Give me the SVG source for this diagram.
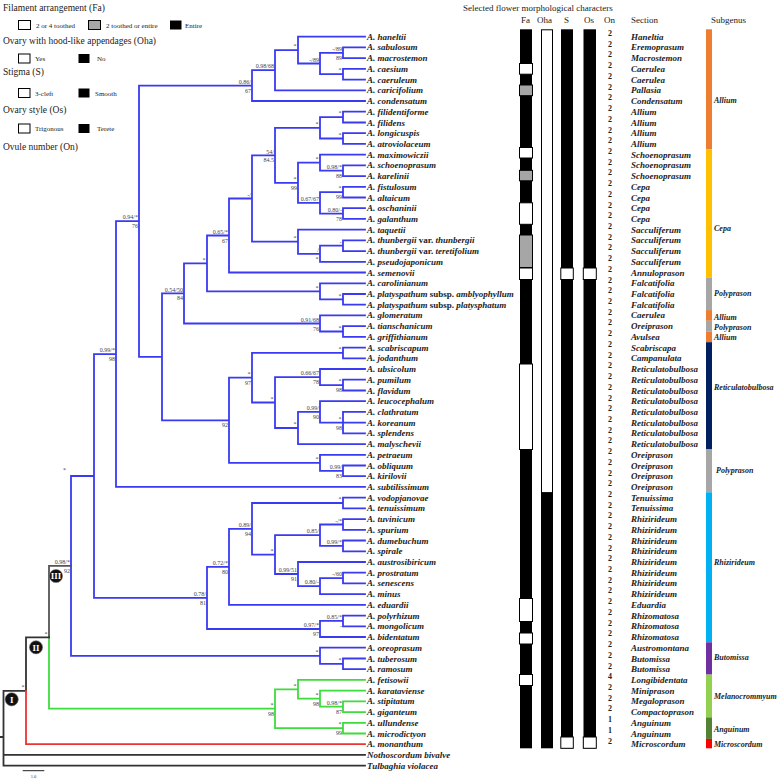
<svg xmlns="http://www.w3.org/2000/svg" width="780" height="780" viewBox="0 0 780 780">
<style>
text{font-family:"Liberation Serif","Times New Roman",serif;}
.lg{font-size:9.5px;fill:#222}
.ls{font-size:7px;fill:#222}
.hd{font-size:9px;fill:#222}
.tx{font-size:9px;font-weight:bold;font-style:italic;fill:#222}
.tx .r{font-style:normal}
.sc{font-size:9px;font-weight:bold;font-style:italic;fill:#222}
.sg{font-size:8px;font-weight:bold;font-style:italic;fill:#222}
.on{font-size:8px;font-weight:bold;fill:#222;text-anchor:middle}
.nl{font-size:6px;fill:#444;text-anchor:end}
.br{fill:none;stroke-width:1.8;stroke-linecap:square}
.blue{stroke:#3a3af2}
.green{stroke:#3ddc3d}
.red{stroke:#ee3333}
.blk{stroke:#333}
.gry{stroke:#555}
.wb{fill:#fff;stroke:#000;stroke-width:1}
.gb{fill:#a6a6a6;stroke:#000;stroke-width:1}
.bb{fill:#000}
.cir{fill:#111;stroke:#777;stroke-width:0.6}
.cn{font-family:"Liberation Serif","Times New Roman",serif;font-size:9px;font-weight:bold;fill:#fff;text-anchor:middle}
</style>

<g id="legend">
<text class="lg" x="3" y="11">Filament arrangement (Fa)</text>
<rect class="wb" x="18.5" y="20.5" width="12" height="9"/><text class="ls" x="36" y="27.5">2 or 4 toothed</text>
<rect class="gb" x="88.5" y="20.5" width="12" height="9"/><text class="ls" x="106" y="27.5">2 toothed or entire</text>
<rect class="bb" x="170" y="20.5" width="11.5" height="9"/><text class="ls" x="185" y="27.5">Entire</text>
<text class="lg" x="3" y="44">Ovary with hood-like appendages (Oha)</text>
<rect class="wb" x="18.5" y="54" width="11.5" height="9"/><text class="ls" x="35" y="61">Yes</text>
<rect class="bb" x="78.5" y="54" width="11" height="9"/><text class="ls" x="97" y="61">No</text>
<text class="lg" x="3" y="75">Stigma (S)</text>
<rect class="wb" x="18.5" y="88.5" width="11.5" height="9"/><text class="ls" x="35" y="95.5">3-cleft</text>
<rect class="bb" x="78.5" y="88.5" width="11" height="9"/><text class="ls" x="95" y="95.5">Smooth</text>
<text class="lg" x="3" y="113">Ovary style (Os)</text>
<rect class="wb" x="18.5" y="124" width="11.5" height="9"/><text class="ls" x="35" y="131">Trigonous</text>
<rect class="bb" x="78.5" y="124" width="11" height="9"/><text class="ls" x="97" y="131">Terete</text>
<text class="lg" x="3" y="150">Ovule number (On)</text>
</g>

<g id="connectors">
<path class="br blue" d="
M343,47.4V58.1M343,47.4H365M343,58.1H365
M343,68.9V79.6M343,68.9H365M343,79.6H365
M320,52.8V74.2M320,52.8H343M320,74.2H343
M298,36.7V63.5M298,36.7H365M298,63.5H320
M275,50.1V90.3M275,50.1H298M275,90.3H365
M252,70.2V101M252,70.2H275M252,101H365
M343,111.7V122.5M343,111.7H365M343,122.5H365
M343,133.2V143.9M343,133.2H365M343,143.9H365
M320,117.1V138.5M320,117.1H343M320,138.5H343
M343,165.3V176.1M343,165.3H365M343,176.1H365
M320,154.6V170.7M320,154.6H365M320,170.7H343
M343,186.8V197.5M343,186.8H365M343,197.5H365
M343,208.2V218.9M343,208.2H365M343,218.9H365
M320,192.1V213.6M320,192.1H343M320,213.6H343
M298,162.7V202.9M298,162.7H320M298,202.9H320
M275,127.8V182.8M275,127.8H320M275,182.8H298
M343,240.4V251.1M343,240.4H365M343,251.1H365
M320,245.7V261.8M320,245.7H343M320,261.8H365
M298,229.7V253.8M298,229.7H365M298,253.8H320
M252,155.3V241.7M252,155.3H275M252,241.7H298
M229,198.5V272.5M229,198.5H252M229,272.5H365
M343,294V304.7M343,294H365M343,304.7H365
M320,283.3V299.3M320,283.3H365M320,299.3H343
M207,235.5V291.3M207,235.5H229M207,291.3H320
M343,326.1V336.9M343,326.1H365M343,336.9H365
M320,315.4V331.5M320,315.4H365M320,331.5H343
M184,263.4V323.5M184,263.4H207M184,323.5H320
M343,347.6V358.3M343,347.6H365M343,358.3H365
M343,379.7V390.5M343,379.7H365M343,390.5H365
M320,369V385.1M320,369H365M320,385.1H343
M343,411.9V433.3M343,411.9H365M343,422.6H365M343,433.3H365
M320,401.2V422.6M320,401.2H365M320,422.6H343
M298,411.9V444.1M298,411.9H320M298,444.1H365
M275,377.1V428M275,377.1H320M275,428H298
M252,352.9V402.5M252,352.9H343M252,402.5H275
M343,465.5V476.2M343,465.5H365M343,476.2H365
M320,454.8V470.9M320,454.8H365M320,470.9H343
M229,377.7V462.8M229,377.7H252M229,462.8H320
M162,293.4V420.3M162,293.4H184M162,420.3H229
M139,85.6V356.8M139,85.6H252M139,356.8H162
M116,221.2V486.9M116,221.2H139M116,486.9H365
M343,497.7V508.4M343,497.7H365M343,508.4H365
M343,519.1V529.8M343,519.1H365M343,529.8H365
M343,540.5V551.3M343,540.5H365M343,551.3H365
M320,524.5V545.9M320,524.5H343M320,545.9H343
M343,572.7V583.4M343,572.7H365M343,583.4H365
M320,578.1V594.1M320,578.1H343M320,594.1H365
M298,562V586.1M298,562H365M298,586.1H320
M275,535.2V574M275,535.2H320M275,574H298
M252,503V554.6M252,503H343M252,554.6H275
M229,528.8V604.9M229,528.8H252M229,604.9H365
M343,615.6V626.3M343,615.6H365M343,626.3H365
M320,620.9V637M320,620.9H343M320,637H365
M207,566.8V629M207,566.8H229M207,629H320
M94,354.1V597.9M94,354.1H116M94,597.9H207
M343,658.5V669.2M343,658.5H365M343,669.2H365
M320,647.7V663.8M320,647.7H365M320,663.8H343
M71,476V655.8M71,476H94M71,655.8H320"/>
<path class="br green" d="
M343,701.3V712.1M343,701.3H365M343,712.1H365
M320,690.6V706.7M320,690.6H365M320,706.7H343
M298,679.9V698.7M298,679.9H365M298,698.7H320
M343,722.8V733.5M343,722.8H365M343,733.5H365
M275,689.3V728.1M275,689.3H298M275,728.1H343
M49,637.3V708.7M49,708.7H275"/>
<path class="br gry" d="M49,565.9V637.3M49,565.9H71"/>
<path class="br blk" d="M26,637.3V690.8M26,637.3H49M3.5,690.8V765.7M3.5,690.8H26M3.5,754.9H365M3.5,765.7H365M0,737H3.5"/>
<path class="br red" d="M26,690.8V744.2M26,744.2H365"/>
</g>

<g id="node-labels">
<text class="nl" x="296.5" y="48.3">*</text>
<text class="nl" x="319" y="61.7">-/89</text>
<text class="nl" x="342" y="51">-/89</text><text class="nl" x="342" y="59.8">89</text>
<text class="nl" x="341.5" y="72.4">*</text>
<text class="nl" x="274" y="68.4">0.98/68</text>
<text class="nl" x="251" y="83.8">0.86/</text><text class="nl" x="251" y="92.6">67</text>
<text class="nl" x="341.5" y="115.3">*</text>
<text class="nl" x="341.5" y="136.7">*</text>
<text class="nl" x="318.5" y="126">*</text>
<text class="nl" x="274" y="153.5">54/</text><text class="nl" x="274" y="162.3">84.5</text>
<text class="nl" x="318.5" y="160.9">*</text>
<text class="nl" x="342" y="168.9">0.98/*</text><text class="nl" x="342" y="177.7">88</text>
<text class="nl" x="296.5" y="181">*</text><text class="nl" x="297" y="189.8">99</text>
<text class="nl" x="341.5" y="190.3">*</text><text class="nl" x="342" y="199.1">99</text>
<text class="nl" x="319" y="201.1">0.67/67</text>
<text class="nl" x="342" y="211.8">0.80/-</text><text class="nl" x="342" y="220.6">78</text>
<text class="nl" x="251" y="196.7">-/</text>
<text class="nl" x="296.5" y="239.9">*</text>
<text class="nl" x="341.5" y="243.9">-</text>
<text class="nl" x="319" y="252">/</text><text class="nl" x="318.5" y="260.8">*</text>
<text class="nl" x="228" y="233.7">0.65/*</text><text class="nl" x="228" y="242.5">67</text>
<text class="nl" x="205.5" y="261.6">*</text>
<text class="nl" x="318.5" y="289.5">*</text>
<text class="nl" x="341.5" y="297.5">*</text>
<text class="nl" x="183" y="291.6">0.54/50</text><text class="nl" x="183" y="300.4">84</text>
<text class="nl" x="319" y="321.7">0.91/68</text><text class="nl" x="319" y="330.5">76</text>
<text class="nl" x="341.5" y="329.7">*</text>
<text class="nl" x="138" y="219.4">0.94/*</text><text class="nl" x="138" y="228.2">76</text>
<text class="nl" x="115" y="352.3">0.99/*</text><text class="nl" x="115" y="361.1">98</text>
<text class="nl" x="341.5" y="351.1">*</text>
<text class="nl" x="250.5" y="375.9">*</text><text class="nl" x="251" y="384.7">97</text>
<text class="nl" x="319" y="375.3">0.66/67</text><text class="nl" x="319" y="384.1">78</text>
<text class="nl" x="341.5" y="383.3">*</text><text class="nl" x="342" y="392.1">98</text>
<text class="nl" x="273.5" y="400.7">*</text>
<text class="nl" x="319" y="410.1">0.99/</text><text class="nl" x="319" y="418.9">90</text>
<text class="nl" x="341.5" y="420.8">*</text><text class="nl" x="342" y="429.6">98</text>
<text class="nl" x="296.5" y="426.2">*</text>
<text class="nl" x="228" y="427.3">92</text>
<text class="nl" x="318.5" y="461">*</text>
<text class="nl" x="342" y="469.1">0.99/</text><text class="nl" x="342" y="477.9">83</text>
<text class="nl" x="66" y="472">*</text>
<text class="nl" x="70" y="564.1">0.98/*</text><text class="nl" x="70" y="572.9">92</text>
<text class="nl" x="206" y="596.1">0.78/</text><text class="nl" x="206" y="604.9">81</text>
<text class="nl" x="228" y="565">0.72/*</text><text class="nl" x="228" y="573.8">80</text>
<text class="nl" x="251" y="527">0.89/</text><text class="nl" x="251" y="535.8">94</text>
<text class="nl" x="341.5" y="501.2">*</text>
<text class="nl" x="273.5" y="552.8">*</text>
<text class="nl" x="319" y="533.4">0.85/</text>
<text class="nl" x="342" y="522.7">-/*</text>
<text class="nl" x="342" y="544.1">0.99/*</text>
<text class="nl" x="297" y="572.2">0.99/51</text><text class="nl" x="297" y="581">91</text>
<text class="nl" x="319" y="584.3">0.80/-</text>
<text class="nl" x="342" y="576.3">-/60</text>
<text class="nl" x="319" y="627.2">0.97/*</text><text class="nl" x="319" y="636">97</text>
<text class="nl" x="342" y="619.1">0.85/*</text><text class="nl" x="342" y="627.9">-</text>
<text class="nl" x="318.5" y="654">*</text>
<text class="nl" x="341.5" y="662">*</text>
<text class="nl" x="273.5" y="706.9">*</text><text class="nl" x="274" y="715.7">98</text>
<text class="nl" x="296.5" y="687.5">*</text>
<text class="nl" x="318.5" y="696.9">*</text><text class="nl" x="319" y="705.7">98</text>
<text class="nl" x="342" y="704.9">0.98/*</text><text class="nl" x="342" y="713.7">87</text>
<text class="nl" x="341.5" y="726.3">*</text><text class="nl" x="342" y="735.1">99</text>
<text class="nl" x="47.5" y="635.5">*</text>
<text class="nl" x="24.5" y="689">*</text>
</g>

<g id="clade-I"><circle class="cir" cx="11.7" cy="699.3" r="6.6"/><text class="cn" x="11.7" y="702.5">I</text></g>
<g id="clade-II"><circle class="cir" cx="36" cy="647.3" r="6.6"/><text class="cn" x="36" y="650.5">II</text></g>
<g id="clade-III"><circle class="cir" cx="56" cy="576" r="6.6"/><text class="cn" x="56" y="579.2" font-size="8">III</text></g>

<g id="scale-bar"><path d="M22.7,770.7H44.3" stroke="#222" stroke-width="1"/><text x="33.5" y="778" font-size="4.5" text-anchor="middle" fill="#333">1.0</text></g>

<g id="taxa">
<text class="tx" x="367" y="39.7">A. haneltii</text>
<text class="tx" x="367" y="50.4">A. sabulosum</text>
<text class="tx" x="367" y="61.1">A. macrostemon</text>
<text class="tx" x="367" y="71.9">A. caesium</text>
<text class="tx" x="367" y="82.6">A. caeruleum</text>
<text class="tx" x="367" y="93.3">A. caricifolium</text>
<text class="tx" x="367" y="104">A. condensatum</text>
<text class="tx" x="367" y="114.7">A. filidentiforme</text>
<text class="tx" x="367" y="125.5">A. filidens</text>
<text class="tx" x="367" y="136.2">A. longicuspis</text>
<text class="tx" x="367" y="146.9">A. atroviolaceum</text>
<text class="tx" x="367" y="157.6">A. maximowiczii</text>
<text class="tx" x="367" y="168.3">A. schoenoprasum</text>
<text class="tx" x="367" y="179.1">A. karelinii</text>
<text class="tx" x="367" y="189.8">A. fistulosum</text>
<text class="tx" x="367" y="200.5">A. altaicum</text>
<text class="tx" x="367" y="211.2">A. oschaninii</text>
<text class="tx" x="367" y="221.9">A. galanthum</text>
<text class="tx" x="367" y="232.7">A. taquetii</text>
<text class="tx" x="367" y="243.4">A. thunbergii <tspan class="r">var.</tspan> thunbergii</text>
<text class="tx" x="367" y="254.1">A. thunbergii <tspan class="r">var.</tspan> teretifolium</text>
<text class="tx" x="367" y="264.8">A. pseudojaponicum</text>
<text class="tx" x="367" y="275.5">A. semenovii</text>
<text class="tx" x="367" y="286.3">A. carolinianum</text>
<text class="tx" x="367" y="297">A. platyspathum <tspan class="r">subsp.</tspan> amblyophyllum</text>
<text class="tx" x="367" y="307.7">A. platyspathum <tspan class="r">subsp.</tspan> platysphatum</text>
<text class="tx" x="367" y="318.4">A. glomeratum</text>
<text class="tx" x="367" y="329.1">A. tianschanicum</text>
<text class="tx" x="367" y="339.9">A. griffithianum</text>
<text class="tx" x="367" y="350.6">A. scabriscapum</text>
<text class="tx" x="367" y="361.3">A. jodanthum</text>
<text class="tx" x="367" y="372">A. ubsicolum</text>
<text class="tx" x="367" y="382.7">A. pumilum</text>
<text class="tx" x="367" y="393.5">A. flavidum</text>
<text class="tx" x="367" y="404.2">A. leucocephalum</text>
<text class="tx" x="367" y="414.9">A. clathratum</text>
<text class="tx" x="367" y="425.6">A. koreanum</text>
<text class="tx" x="367" y="436.3">A. splendens</text>
<text class="tx" x="367" y="447.1">A. malyschevii</text>
<text class="tx" x="367" y="457.8">A. petraeum</text>
<text class="tx" x="367" y="468.5">A. obliquum</text>
<text class="tx" x="367" y="479.2">A. kirilovii</text>
<text class="tx" x="367" y="489.9">A. subtilissimum</text>
<text class="tx" x="367" y="500.7">A. vodopjanovae</text>
<text class="tx" x="367" y="511.4">A. tenuissimum</text>
<text class="tx" x="367" y="522.1">A. tuvinicum</text>
<text class="tx" x="367" y="532.8">A. spurium</text>
<text class="tx" x="367" y="543.5">A. dumebuchum</text>
<text class="tx" x="367" y="554.3">A. spirale</text>
<text class="tx" x="367" y="565">A. austrosibiricum</text>
<text class="tx" x="367" y="575.7">A. prostratum</text>
<text class="tx" x="367" y="586.4">A. senescens</text>
<text class="tx" x="367" y="597.1">A. minus</text>
<text class="tx" x="367" y="607.9">A. eduardii</text>
<text class="tx" x="367" y="618.6">A. polyrhizum</text>
<text class="tx" x="367" y="629.3">A. mongolicum</text>
<text class="tx" x="367" y="640">A. bidentatum</text>
<text class="tx" x="367" y="650.7">A. oreoprasum</text>
<text class="tx" x="367" y="661.5">A. tuberosum</text>
<text class="tx" x="367" y="672.2">A. ramosum</text>
<text class="tx" x="367" y="682.9">A. fetisowii</text>
<text class="tx" x="367" y="693.6">A. karataviense</text>
<text class="tx" x="367" y="704.3">A. stipitatum</text>
<text class="tx" x="367" y="715.1">A. giganteum</text>
<text class="tx" x="367" y="725.8">A. ullundense</text>
<text class="tx" x="367" y="736.5">A. microdictyon</text>
<text class="tx" x="367" y="747.2">A. monanthum</text>
<text class="tx" x="367" y="757.9">Nothoscordum bivalve</text>
<text class="tx" x="367" y="768.7">Tulbaghia violacea</text>
</g>

<g id="headers">
<text class="hd" x="463" y="11">Selected flower morphological characters</text>
<text class="hd" x="521" y="23">Fa</text>
<text class="hd" x="537" y="23">Oha</text>
<text class="hd" x="564" y="23">S</text>
<text class="hd" x="584" y="23">Os</text>
<text class="hd" x="604" y="23">On</text>
<text class="hd" x="631" y="23">Section</text>
<text class="hd" x="711" y="23">Subgenus</text>
</g>

<g id="col-Fa">
<rect class="bb" x="520" y="29.3" width="12" height="719"/>
<rect class="wb" x="519.5" y="63.5" width="13" height="10.7"/>
<rect class="gb" x="519.5" y="85" width="13" height="10.7"/>
<rect class="wb" x="519.5" y="147.5" width="13" height="10.5"/>
<rect class="gb" x="519.5" y="170.3" width="13" height="10.5"/>
<rect class="wb" x="519.5" y="202.8" width="13" height="21.5"/>
<rect class="gb" x="519.5" y="235" width="13" height="32.5"/>
<rect class="wb" x="519.5" y="268" width="13" height="11.5"/>
<rect class="wb" x="519.5" y="364" width="13" height="85.5"/>
<rect class="wb" x="519.5" y="598.5" width="13" height="23"/>
<rect class="wb" x="519.5" y="633" width="13" height="11"/>
<rect class="wb" x="519.5" y="674.5" width="13" height="11"/>
</g>
<g id="col-Oha">
<rect class="wb" x="541.5" y="29.8" width="11" height="463"/>
<rect class="bb" x="541" y="492.3" width="12" height="256"/>
</g>
<g id="col-S">
<rect class="bb" x="561" y="29.3" width="12" height="719"/>
<rect class="wb" x="560.8" y="268" width="12.5" height="11.5"/>
<rect class="wb" x="560.8" y="737" width="12.5" height="11.3"/>
</g>
<g id="col-Os">
<rect class="bb" x="583.5" y="29.3" width="12.5" height="719"/>
<rect class="wb" x="583.3" y="268" width="13" height="11.5"/>
<rect class="wb" x="583.3" y="737" width="13" height="11.3"/>
</g>

<g id="col-On">
<text class="on" x="610" y="36">2</text><text class="on" x="610" y="46.7">2</text><text class="on" x="610" y="57.4">2</text><text class="on" x="610" y="68.2">2</text><text class="on" x="610" y="78.9">2</text><text class="on" x="610" y="89.6">2</text><text class="on" x="610" y="100.3">2</text><text class="on" x="610" y="111">2</text><text class="on" x="610" y="121.8">2</text><text class="on" x="610" y="132.5">2</text><text class="on" x="610" y="143.2">2</text><text class="on" x="610" y="153.9">2</text><text class="on" x="610" y="164.6">2</text><text class="on" x="610" y="175.4">2</text><text class="on" x="610" y="186.1">2</text><text class="on" x="610" y="196.8">2</text><text class="on" x="610" y="207.5">2</text><text class="on" x="610" y="218.2">2</text><text class="on" x="610" y="229">2</text><text class="on" x="610" y="239.7">2</text><text class="on" x="610" y="250.4">2</text><text class="on" x="610" y="261.1">2</text><text class="on" x="610" y="271.8">2</text><text class="on" x="610" y="282.6">2</text><text class="on" x="610" y="293.3">2</text><text class="on" x="610" y="304">2</text><text class="on" x="610" y="314.7">2</text><text class="on" x="610" y="325.4">2</text><text class="on" x="610" y="336.2">2</text><text class="on" x="610" y="346.9">2</text><text class="on" x="610" y="357.6">2</text><text class="on" x="610" y="368.3">2</text><text class="on" x="610" y="379">2</text><text class="on" x="610" y="389.8">2</text><text class="on" x="610" y="400.5">2</text><text class="on" x="610" y="411.2">2</text><text class="on" x="610" y="421.9">2</text><text class="on" x="610" y="432.6">2</text><text class="on" x="610" y="443.4">2</text><text class="on" x="610" y="454.1">2</text><text class="on" x="610" y="464.8">2</text><text class="on" x="610" y="475.5">2</text><text class="on" x="610" y="486.2">2</text><text class="on" x="610" y="497">2</text><text class="on" x="610" y="507.7">2</text><text class="on" x="610" y="518.4">2</text><text class="on" x="610" y="529.1">2</text><text class="on" x="610" y="539.8">2</text><text class="on" x="610" y="550.6">2</text><text class="on" x="610" y="561.3">2</text><text class="on" x="610" y="572">2</text><text class="on" x="610" y="582.7">2</text><text class="on" x="610" y="593.4">2</text><text class="on" x="610" y="604.2">2</text><text class="on" x="610" y="614.9">2</text><text class="on" x="610" y="625.6">2</text><text class="on" x="610" y="636.3">2</text><text class="on" x="610" y="647">2</text><text class="on" x="610" y="657.8">2</text><text class="on" x="610" y="668.5">2</text><text class="on" x="610" y="679.2">4</text><text class="on" x="610" y="689.9">2</text><text class="on" x="610" y="700.6">2</text><text class="on" x="610" y="711.4">2</text><text class="on" x="610" y="722.1">1</text><text class="on" x="610" y="732.8">1</text><text class="on" x="610" y="743.5">2</text>
</g>

<g id="col-Section">
<text class="sc" x="631" y="39.7">Haneltia</text>
<text class="sc" x="631" y="50.4">Eremoprasum</text>
<text class="sc" x="631" y="61.1">Macrostemon</text>
<text class="sc" x="631" y="71.9">Caerulea</text>
<text class="sc" x="631" y="82.6">Caerulea</text>
<text class="sc" x="631" y="93.3">Pallasia</text>
<text class="sc" x="631" y="104">Condensatum</text>
<text class="sc" x="631" y="114.7">Allium</text>
<text class="sc" x="631" y="125.5">Allium</text>
<text class="sc" x="631" y="136.2">Allium</text>
<text class="sc" x="631" y="146.9">Allium</text>
<text class="sc" x="631" y="157.6">Schoenoprasum</text>
<text class="sc" x="631" y="168.3">Schoenoprasum</text>
<text class="sc" x="631" y="179.1">Schoenoprasum</text>
<text class="sc" x="631" y="189.8">Cepa</text>
<text class="sc" x="631" y="200.5">Cepa</text>
<text class="sc" x="631" y="211.2">Cepa</text>
<text class="sc" x="631" y="221.9">Cepa</text>
<text class="sc" x="631" y="232.7">Sacculiferum</text>
<text class="sc" x="631" y="243.4">Sacculiferum</text>
<text class="sc" x="631" y="254.1">Sacculiferum</text>
<text class="sc" x="631" y="264.8">Sacculiferum</text>
<text class="sc" x="631" y="275.5">Annuloprason</text>
<text class="sc" x="631" y="286.3">Falcatifolia</text>
<text class="sc" x="631" y="297">Falcatifolia</text>
<text class="sc" x="631" y="307.7">Falcatifolia</text>
<text class="sc" x="631" y="318.4">Caerulea</text>
<text class="sc" x="631" y="329.1">Oreiprason</text>
<text class="sc" x="631" y="339.9">Avulsea</text>
<text class="sc" x="631" y="350.6">Scabriscapa</text>
<text class="sc" x="631" y="361.3">Campanulata</text>
<text class="sc" x="631" y="372">Reticulatobulbosa</text>
<text class="sc" x="631" y="382.7">Reticulatobulbosa</text>
<text class="sc" x="631" y="393.5">Reticulatobulbosa</text>
<text class="sc" x="631" y="404.2">Reticulatobulbosa</text>
<text class="sc" x="631" y="414.9">Reticulatobulbosa</text>
<text class="sc" x="631" y="425.6">Reticulatobulbosa</text>
<text class="sc" x="631" y="436.3">Reticulatobulbosa</text>
<text class="sc" x="631" y="447.1">Reticulatobulbosa</text>
<text class="sc" x="631" y="457.8">Oreiprason</text>
<text class="sc" x="631" y="468.5">Oreiprason</text>
<text class="sc" x="631" y="479.2">Oreiprason</text>
<text class="sc" x="631" y="489.9">Oreiprason</text>
<text class="sc" x="631" y="500.7">Tenuissima</text>
<text class="sc" x="631" y="511.4">Tenuissima</text>
<text class="sc" x="631" y="522.1">Rhizirideum</text>
<text class="sc" x="631" y="532.8">Rhizirideum</text>
<text class="sc" x="631" y="543.5">Rhizirideum</text>
<text class="sc" x="631" y="554.3">Rhizirideum</text>
<text class="sc" x="631" y="565">Rhizirideum</text>
<text class="sc" x="631" y="575.7">Rhizirideum</text>
<text class="sc" x="631" y="586.4">Rhizirideum</text>
<text class="sc" x="631" y="597.1">Rhizirideum</text>
<text class="sc" x="631" y="607.9">Eduardia</text>
<text class="sc" x="631" y="618.6">Rhizomatosa</text>
<text class="sc" x="631" y="629.3">Rhizomatosa</text>
<text class="sc" x="631" y="640">Rhizomatosa</text>
<text class="sc" x="631" y="650.7">Austromontana</text>
<text class="sc" x="631" y="661.5">Butomissa</text>
<text class="sc" x="631" y="672.2">Butomissa</text>
<text class="sc" x="631" y="682.9">Longibidentata</text>
<text class="sc" x="631" y="693.6">Miniprason</text>
<text class="sc" x="631" y="704.3">Megaloprason</text>
<text class="sc" x="631" y="715.1">Compactoprason</text>
<text class="sc" x="631" y="725.8">Anguinum</text>
<text class="sc" x="631" y="736.5">Anguinum</text>
<text class="sc" x="631" y="747.2">Microscordum</text>
</g>

<g id="col-Subgenus">
<rect x="706" y="29.3" width="6" height="120" fill="#ed7d31"/>
<rect x="706" y="149.3" width="6" height="128.3" fill="#ffc000"/>
<rect x="706" y="277.6" width="6" height="32.5" fill="#a6a6a6"/>
<rect x="706" y="310.1" width="6" height="10.7" fill="#ed7d31"/>
<rect x="706" y="320.8" width="6" height="10.7" fill="#a6a6a6"/>
<rect x="706" y="331.5" width="6" height="10.7" fill="#ed7d31"/>
<rect x="706" y="342.2" width="6" height="107.2" fill="#002060"/>
<rect x="706" y="449.4" width="6" height="42.9" fill="#a6a6a6"/>
<rect x="706" y="492.3" width="6" height="150" fill="#00b0f0"/>
<rect x="706" y="642.3" width="6" height="32.3" fill="#7030a0"/>
<rect x="706" y="674.6" width="6" height="42.8" fill="#92d050"/>
<rect x="706" y="717.4" width="6" height="21.5" fill="#548235"/>
<rect x="706" y="738.9" width="6" height="9.4" fill="#ff0000"/>
<text class="sg" x="714" y="102.5">Allium</text>
<text class="sg" x="714" y="230.5">Cepa</text>
<text class="sg" x="714" y="296">Polyprason</text>
<text class="sg" x="714" y="319.5">Allium</text>
<text class="sg" x="714" y="330">Polyprason</text>
<text class="sg" x="714" y="340">Allium</text>
<text class="sg" x="714" y="389.5">Reticulatobulbosa</text>
<text class="sg" x="716" y="473">Polyprason</text>
<text class="sg" x="714" y="564.5">Rhizirideum</text>
<text class="sg" x="714" y="660">Butomissa</text>
<text class="sg" x="714" y="699">Melanocrommyum</text>
<text class="sg" x="714" y="732">Anguinum</text>
<text class="sg" x="714" y="747">Microscordum</text>
</g>
</svg>
